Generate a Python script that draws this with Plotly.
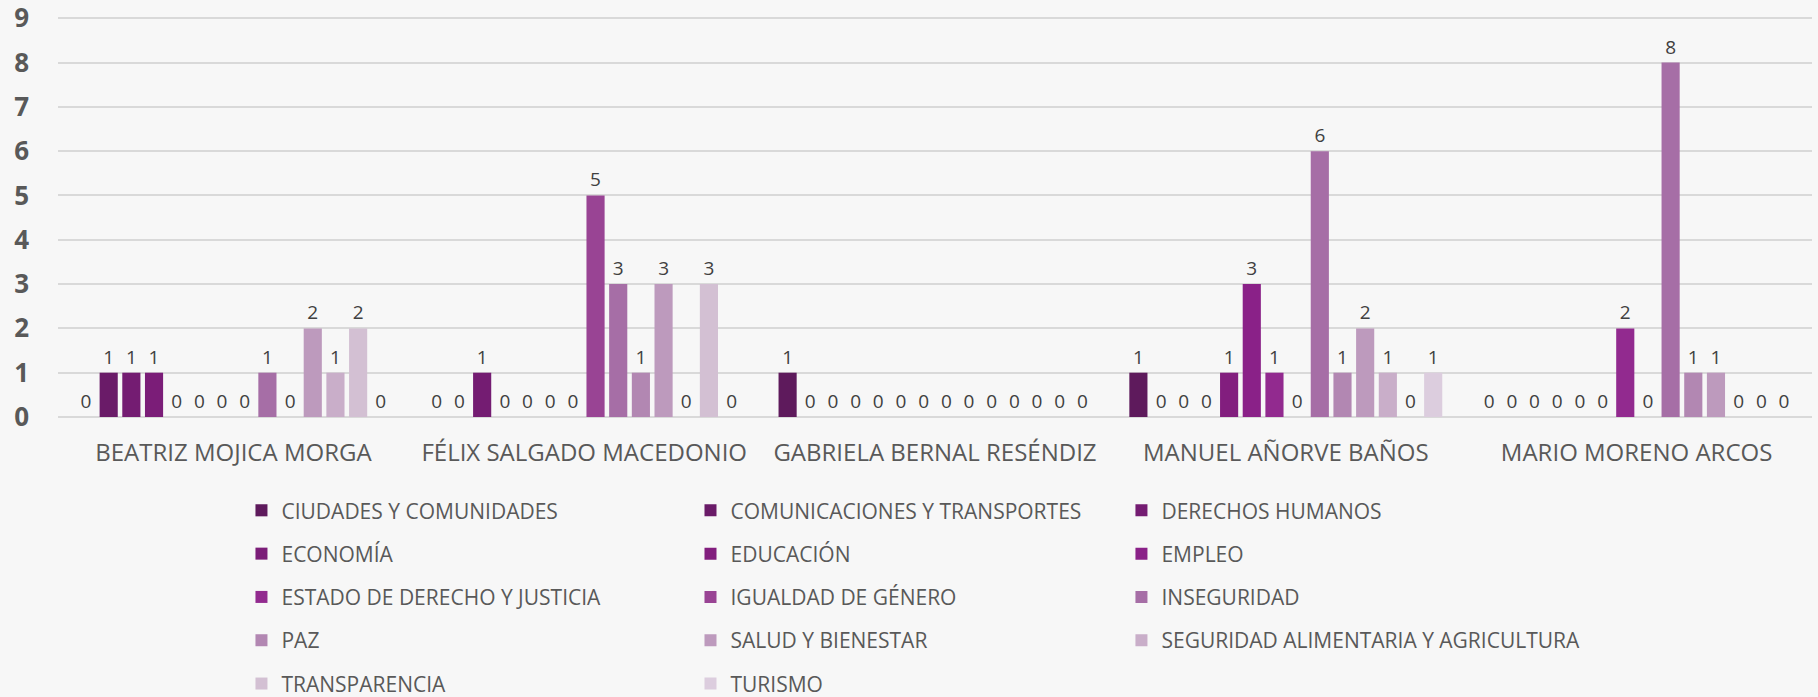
import plotly.graph_objects as go

candidates = ["BEATRIZ MOJICA MORGA", "FÉLIX SALGADO MACEDONIO", "GABRIELA BERNAL RESÉNDIZ",
              "MANUEL AÑORVE BAÑOS", "MARIO MORENO ARCOS"]

topics = ["CIUDADES Y COMUNIDADES", "COMUNICACIONES Y TRANSPORTES", "DERECHOS HUMANOS",
          "ECONOMÍA", "EDUCACIÓN", "EMPLEO", "ESTADO DE DERECHO Y JUSTICIA",
          "IGUALDAD DE GÉNERO", "INSEGURIDAD", "PAZ", "SALUD Y BIENESTAR",
          "SEGURIDAD ALIMENTARIA Y AGRICULTURA", "TRANSPARENCIA", "TURISMO"]

# values per topic, in candidate order
ciudades = [0, 0, 1, 1, 0]
comunicaciones = [1, 0, 0, 0, 0]
derechos = [1, 1, 0, 0, 0]
economia = [1, 0, 0, 0, 0]
educacion = [0, 0, 0, 1, 0]
empleo = [0, 0, 0, 3, 0]
estado_derecho = [0, 0, 0, 1, 2]
igualdad = [0, 5, 0, 0, 0]
inseguridad = [1, 3, 0, 6, 8]
paz = [0, 1, 0, 1, 1]
salud = [2, 3, 0, 2, 1]
seguridad_alim = [1, 0, 0, 1, 0]
transparencia = [2, 3, 0, 0, 0]
turismo = [0, 0, 0, 1, 0]

series = [ciudades, comunicaciones, derechos, economia, educacion, empleo, estado_derecho,
          igualdad, inseguridad, paz, salud, seguridad_alim, transparencia, turismo]

colors = ["#5e1a5c", "#6a1b68", "#741c72", "#7b1d78", "#821e7e", "#8a2188", "#922a8f",
          "#994494", "#a66ea6", "#b287b2", "#bd9abd", "#c9aec9", "#d3c0d3", "#dccdde"]

y_ticks = list(range(0, 10))

fig = go.Figure()
legend_ids = ["legend", "legend2", "legend3"]
for i, (name, vals) in enumerate(zip(topics, series)):
    fig.add_trace(go.Bar(
        x=candidates, y=vals, name=name,
        marker=dict(color=colors[i], line=dict(width=0)),
        texttemplate="%{y}", textposition="outside", cliponaxis=False,
        constraintext="none",
        textfont=dict(family="Open Sans", size=19, color="#404040"),
        legend=legend_ids[i % 3], legendgroup=f"g{i}",
        hoverinfo="x+y+name",
    ))

bg = "#f7f7f7"
leg_common = dict(
    orientation="v", yanchor="top", y=-0.1825, xanchor="left",
    bgcolor="rgba(0,0,0,0)", borderwidth=0, tracegroupgap=13,
    font=dict(family="Open Sans", size=21, color="#595959"),
    itemclick=False, itemdoubleclick=False,
)

fig.update_layout(
    width=1818, height=697,
    margin=dict(l=58, r=6, t=16, b=280, autoexpand=False),
    paper_bgcolor=bg, plot_bgcolor=bg,
    barmode="group", bargap=0.095, bargroupgap=0.2,
    showlegend=True,
    legend=dict(leg_common, x=0.1046),
    legend2=dict(leg_common, x=0.3606),
    legend3=dict(leg_common, x=0.6063),
    font=dict(family="Open Sans", color="#595959"),
    xaxis=dict(
        showgrid=False, showline=False, ticks="",
        tickfont=dict(family="Open Sans", size=24, color="#595959"),
        ticklabelstandoff=19,
    ),
    yaxis=dict(
        range=[0, 9.05], tickvals=y_ticks, showgrid=True, gridcolor="#d9d9d9", gridwidth=1.5,
        zeroline=True, zerolinecolor="#d9d9d9", zerolinewidth=1.5, showline=False,
        tickfont=dict(family="Open Sans", size=26, color="#595959", weight="bold"),
        ticklabelstandoff=28, ticklabeloverflow="allow", fixedrange=True,
    ),
)

fig.write_html(
    "out.html",
    config={"displayModeBar": False},
    post_script="document.body.style.margin='0';document.body.style.background='#f7f7f7';"
                "document.documentElement.style.overflow='hidden';",
)
